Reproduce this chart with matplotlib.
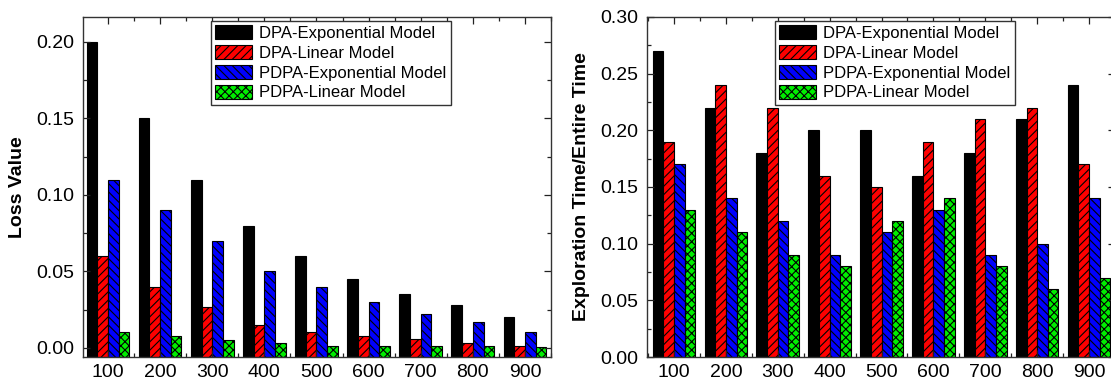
import numpy as np
import matplotlib.pyplot as plt
from matplotlib.ticker import MultipleLocator, FormatStrFormatter

plt.rcParams['font.family'] = ['Liberation Sans', 'DejaVu Sans']
plt.rcParams['hatch.linewidth'] = 0.8

sizes = ['100', '200', '300', '400', '500', '600', '700', '800', '900']
series = ['DPA-Exponential Model', 'DPA-Linear Model',
          'PDPA-Exponential Model', 'PDPA-Linear Model']

# loss values (left panel)
loss_dpa_exp = [0.200, 0.150, 0.110, 0.080, 0.060, 0.045, 0.035, 0.028, 0.020]
loss_dpa_lin = [0.060, 0.040, 0.027, 0.015, 0.0105, 0.008, 0.006, 0.003, 0.0015]
loss_pdpa_exp = [0.110, 0.090, 0.070, 0.050, 0.040, 0.030, 0.022, 0.017, 0.0105]
loss_pdpa_lin = [0.0105, 0.008, 0.005, 0.0035, 0.0012, 0.0012, 0.0012, 0.0012, 0.0005]

# exploration time ratio (right panel)
expl_dpa_exp = [0.27, 0.22, 0.18, 0.20, 0.20, 0.16, 0.18, 0.21, 0.24]
expl_dpa_lin = [0.19, 0.24, 0.22, 0.16, 0.15, 0.19, 0.21, 0.22, 0.17]
expl_pdpa_exp = [0.17, 0.14, 0.12, 0.09, 0.11, 0.13, 0.09, 0.10, 0.14]
expl_pdpa_lin = [0.13, 0.11, 0.09, 0.08, 0.12, 0.14, 0.08, 0.06, 0.07]

colors = ['black', '#ff0000', '#0000ff', '#00ee00']
hatches = [None, '////', '\\\\\\\\', 'xxxx']


def draw_panel(ax, data, ylim, ystep, ylabel, xleft):
    x = np.arange(len(sizes))
    w = 0.205
    base = ylim[0]
    for i, vals in enumerate(data):
        vals = np.array(vals)
        ax.bar(x + (i - 1.5) * w, vals - base, w, bottom=base, color=colors[i],
               edgecolor='black', linewidth=0.8, hatch=hatches[i], label=series[i])
    ax.set_xlim(xleft, len(sizes) - 0.5)
    ax.set_ylim(*ylim)
    ax.set_xticks(x)
    ax.set_xticklabels(sizes)
    ax.xaxis.set_minor_locator(MultipleLocator(0.5))
    ax.yaxis.set_major_locator(MultipleLocator(ystep))
    ax.yaxis.set_minor_locator(MultipleLocator(ystep / 2))
    ax.yaxis.set_major_formatter(FormatStrFormatter('%.2f'))
    ax.tick_params(which='both', direction='in', top=True, right=True,
                   labelsize=14, width=0.9, color='#222222')
    ax.tick_params(which='major', length=5)
    ax.tick_params(which='minor', length=3)
    ax.tick_params(axis='y', pad=6)
    ax.tick_params(axis='x', pad=5)
    for s in ax.spines.values():
        s.set_linewidth(1.0)
        s.set_color('#333333')
    ax.set_ylabel(ylabel, fontsize=14, fontweight='bold', labelpad=8)
    leg = ax.legend(loc='upper left', bbox_to_anchor=(0.2735, 0.988),
                    borderaxespad=0, fontsize=12, handlelength=2.2,
                    handleheight=0.9, labelspacing=0.25, handletextpad=0.45,
                    borderpad=0.25, fancybox=False, framealpha=1)
    leg.get_frame().set_edgecolor('#333333')
    leg.get_frame().set_linewidth(1.0)


fig = plt.figure(figsize=(11.11, 3.87), dpi=100)
ax1 = fig.add_axes([83 / 1111, 30 / 387, 468 / 1111, 340 / 387])
ax2 = fig.add_axes([647 / 1111, 30 / 387, 468 / 1111, 340 / 387])

draw_panel(ax1, [loss_dpa_exp, loss_dpa_lin, loss_pdpa_exp, loss_pdpa_lin],
           (-0.0059, 0.2163), 0.05, 'Loss Value', -0.48)
draw_panel(ax2, [expl_dpa_exp, expl_dpa_lin, expl_pdpa_exp, expl_pdpa_lin],
           (0.0, 0.30), 0.05, 'Exploration Time/Entire Time', -0.52)

fig.savefig('out.png', dpi=100)
